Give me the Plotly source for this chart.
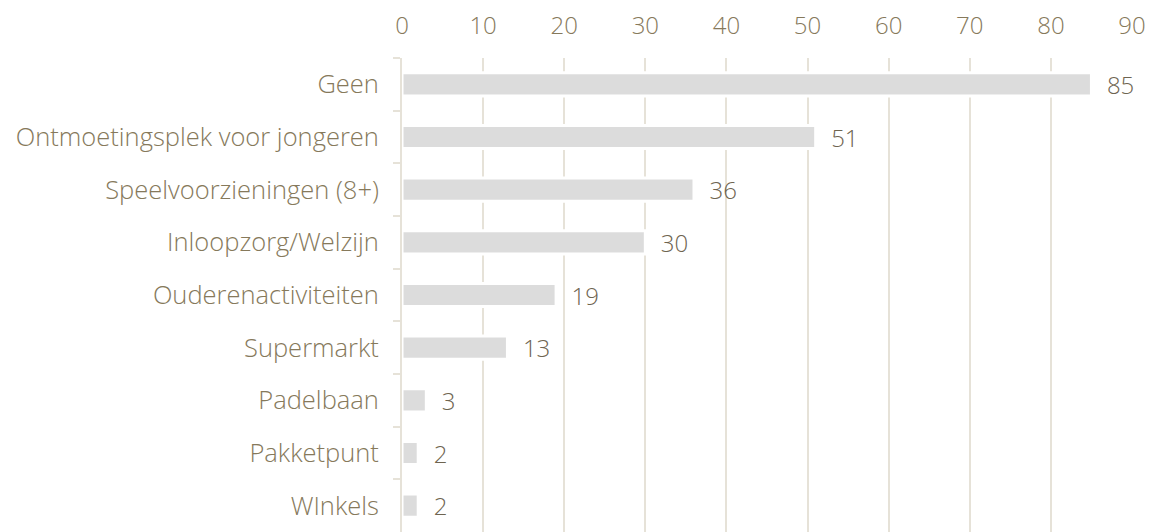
import plotly.graph_objects as go

categories = ["Geen", "Ontmoetingsplek voor jongeren", "Speelvoorzieningen (8+)",
              "Inloopzorg/Welzijn", "Ouderenactiviteiten", "Supermarkt",
              "Padelbaan", "Pakketpunt", "WInkels"]
values = [85, 51, 36, 30, 19, 13, 3, 2, 2]
x_ticks = [0, 10, 20, 30, 40, 50, 60, 70, 80, 90]

label_color = "#86795B"
grid_color = "#E6E2D8"
font_family = "Open Sans, Lato, sans-serif"
fsize = 24

fig = go.Figure(go.Bar(
    x=values,
    y=categories,
    orientation="h",
    marker=dict(color="#DCDCDC", line=dict(color="white", width=3)),
    text=values,
    texttemplate="  %{x}",
    textposition="outside",
    constraintext="none",
    textfont=dict(color="#6E6450", size=fsize, family=font_family, weight=300),
    cliponaxis=False,
    width=0.44,
))

fig.update_layout(
    width=1145, height=524,
    margin=dict(l=394, r=21, t=47, b=0),
    paper_bgcolor="white", plot_bgcolor="white",
    showlegend=False,
    font=dict(family=font_family, color=label_color, size=fsize, weight=300),
    xaxis=dict(
        side="top", range=[0, 90], tickvals=x_ticks,
        showgrid=True, gridcolor=grid_color, gridwidth=2,
        zeroline=False, showline=False, ticks="",
        ticklabelstandoff=18,
        tickfont=dict(size=fsize, color=label_color, weight=300),
    ),
    yaxis=dict(
        categoryorder="array", categoryarray=categories,
        autorange="reversed",
        showline=True, linecolor=grid_color, linewidth=2,
        ticks="outside", tickson="boundaries", ticklen=7,
        tickcolor=grid_color, tickwidth=2,
        ticklabelstandoff=16,
        tickfont=dict(size=25.5, color=label_color, weight=300),
        showgrid=False,
    ),
)

fig.write_html("out.html")
